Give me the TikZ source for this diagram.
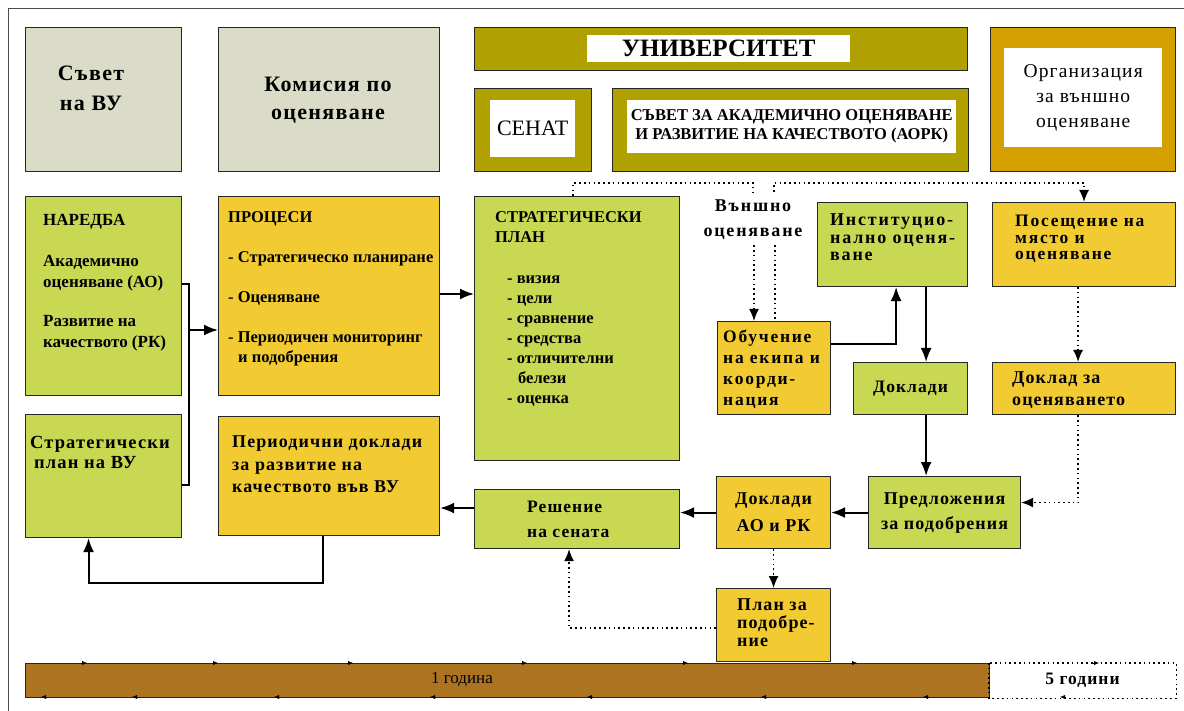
\documentclass[tikz,border=0pt]{standalone}
\usepackage{fontspec}
\setmainfont{Liberation Serif}
\newfontfamily\widefont[LetterSpace=6]{Liberation Serif}
\newfontfamily\widerfont[LetterSpace=10]{Liberation Serif}
\usetikzlibrary{arrows.meta,positioning}

\definecolor{grayfill}{RGB}{219,220,200}
\definecolor{greenfill}{RGB}{200,216,82}
\definecolor{yellowfill}{RGB}{242,202,50}
\definecolor{olivefill}{RGB}{176,160,0}
\definecolor{goldfill}{RGB}{212,160,0}
\definecolor{brownfill}{RGB}{172,116,32}

\tikzset{%
  >={Latex[width=11pt,length=14pt]},
  % Specifications for style of boxes:
            base/.style = {rectangle, draw=black!85, line width=1.1pt, inner sep=0pt,
                           anchor=north west, align=center,
                           font=\bfseries\widefont\fontsize{17.5}{25}\selectfont},
         graybox/.style = {base, fill=grayfill},
        greenbox/.style = {base, fill=greenfill},
       yellowbox/.style = {base, fill=yellowfill},
        olivebox/.style = {base, fill=olivefill},
         goldbox/.style = {base, fill=goldfill},
        whitebox/.style = {rectangle, fill=white, inner sep=0pt, anchor=north west, align=center},
        brownbar/.style = {base, fill=brownfill},
  % text inside the boxes
        bodytext/.style = {inner sep=0pt, anchor=north west, align=left,
                           font=\bfseries\fontsize{16.5}{20}\selectfont},
  % connectors
            link/.style = {line width=1.9pt, black},
         dotlink/.style = {line width=1.6pt, dash pattern=on 1.6pt off 3.2pt, black,
                           >={Latex[width=10pt,length=12pt]}},
            tick/.style = {line width=0.4pt, -{Latex[width=4pt,length=5pt]}},
}

\begin{document}
\begin{tikzpicture}[x=1pt, y=-1pt]
  \useasboundingbox (0,0) rectangle (1184,711);
  \draw[black!70, line width=1pt] (8,711) -- (8,9) -- (1184,9);

  % top row
  \node (sovet)       [graybox, minimum width=156pt, minimum height=144pt] at (25,27) {};
  \node (komisia)     [graybox, minimum width=221pt, minimum height=144pt] at (218,27) {};
  \node (univ)        [olivebox, minimum width=493pt, minimum height=43pt] at (474,27) {};
  \node (senat)       [olivebox, minimum width=117pt, minimum height=83pt] at (474,88) {};
  \node (aork)        [olivebox, minimum width=356pt, minimum height=83pt] at (612,88) {};
  \node (org)         [goldbox, minimum width=185pt, minimum height=144pt] at (990,27) {};

  \node (sovettxt)    [align=center, inner sep=0pt, font=\bfseries\widefont\fontsize{22}{30}\selectfont]
                      at (91,88) {Съвет\\на ВУ};
  \node (komisiatxt)  [align=center, inner sep=0pt, font=\bfseries\widefont\fontsize{22}{28}\selectfont]
                      at (328,100) {Комисия по\\оценяване};
  \node (univtxt)     [whitebox, minimum width=263pt, minimum height=27pt,
                       font=\bfseries\fontsize{25}{28}\selectfont] at (587,35) {УНИВЕРСИТЕТ};
  \node (senattxt)    [whitebox, minimum width=85pt, minimum height=57pt,
                       font=\fontsize{22}{26}\selectfont] at (490,100) {СЕНАТ};
  \node (aorktxt)     [whitebox, minimum width=329pt, minimum height=53pt,
                       font=\bfseries\fontsize{16.5}{19}\selectfont] at (627,100)
                      {СЪВЕТ ЗА АКАДЕМИЧНО ОЦЕНЯВАНЕ\\И РАЗВИТИЕ НА КАЧЕСТВОТО (АОРК)};
  \node (orgtxt)      [whitebox, minimum width=158pt, minimum height=99pt,
                       font=\widefont\fontsize{19.5}{25}\selectfont] at (1004,48)
                      {Организация\\за външно\\оценяване};

  % middle part
  \node (naredba)     [greenbox, minimum width=156pt, minimum height=199pt] at (25,196) {};
  \node (procesi)     [yellowbox, minimum width=221pt, minimum height=199pt] at (218,196) {};
  \node (stratplan)   [greenbox, minimum width=205pt, minimum height=264pt] at (474,196) {};
  \node (inst)        [greenbox, minimum width=150pt, minimum height=84pt] at (817,202) {};
  \node (posesthenie) [yellowbox, minimum width=183pt, minimum height=84pt] at (992,202) {};
  \node (obuchenie)   [yellowbox, minimum width=113pt, minimum height=93pt] at (717,321) {};
  \node (dokladi)     [greenbox, minimum width=114pt, minimum height=52pt] at (853,362) {Доклади};
  \node (dokladocen)  [yellowbox, minimum width=183pt, minimum height=52pt] at (992,362) {};
  \node (vynshno)     [align=center, inner sep=0pt, font=\bfseries\widerfont\fontsize{18}{25}\selectfont]
                      at (753,220) {Външно\\оценяване};

  \node (naredbatxt)  [bodytext, font=\bfseries\fontsize{17}{20.5}\selectfont]
                      at ([shift={(18,18)}]naredba.north west)
                      {НАРЕДБА\\[21pt]Академично\\оценяване (АО)\\[19pt]Развитие на\\качеството (РК)};
  \node (procesitxt)  [bodytext] at ([shift={(10,15)}]procesi.north west)
                      {ПРОЦЕСИ\\[20pt]- Стратегическо планиране\\[20pt]- Оценяване\\[20pt]%
                       - Периодичен мониторинг\\\hspace*{10pt}и подобрения};
  \node (strattxt)    [bodytext] at ([shift={(21,15)}]stratplan.north west)
                      {СТРАТЕГИЧЕСКИ\\ПЛАН\\[21pt]\hspace*{12pt}- визия\\\hspace*{12pt}- цели\\%
                       \hspace*{12pt}- сравнение\\\hspace*{12pt}- средства\\\hspace*{12pt}- отличителни\\%
                       \hspace*{23pt}белези\\\hspace*{12pt}- оценка};
  \node (insttxt)     [bodytext, font=\bfseries\widerfont\fontsize{18}{17.5}\selectfont]
                      at ([shift={(13,12)}]inst.north west) {Институцио-\\нално оценя-\\ване};
  \node (posestxt)    [bodytext, font=\bfseries\widerfont\fontsize{17.5}{16.5}\selectfont]
                      at ([shift={(23,13)}]posesthenie.north west) {Посещение на\\място и\\оценяване};
  \node (obuchtxt)    [bodytext, font=\bfseries\widerfont\fontsize{17.5}{21}\selectfont]
                      at ([shift={(6,9)}]obuchenie.north west) {Обучение\\на екипа и\\коорди-\\нация};
  \node (doklocentxt) [bodytext, font=\bfseries\widefont\fontsize{18}{22}\selectfont]
                      at ([shift={(20,10)}]dokladocen.north west) {Доклад за\\оценяването};

  % lower part
  \node (stratvu)     [greenbox, minimum width=156pt, minimum height=123pt] at (25,414) {};
  \node (periodichni) [yellowbox, minimum width=221pt, minimum height=119pt] at (218,416) {};
  \node (reshenie)    [greenbox, minimum width=205pt, minimum height=59pt] at (474,489) {};
  \node (dokladiao)   [yellowbox, minimum width=114pt, minimum height=72pt,
                       font=\bfseries\widefont\fontsize{18}{27}\selectfont] at (716,476) {Доклади\\АО и РК};
  \node (predlozhenia) [greenbox, minimum width=152pt, minimum height=72pt,
                       font=\bfseries\widefont\fontsize{18}{25}\selectfont] at (868,476)
                      {Предложения\\за подобрения};
  \node (plan)        [yellowbox, minimum width=114pt, minimum height=73pt] at (716,588) {};

  \node (stratvutxt)  [bodytext, font=\bfseries\widefont\fontsize{18.5}{20}\selectfont]
                      at ([shift={(5,22)}]stratvu.north west) {Стратегически\\\hspace*{4pt}план на ВУ};
  \node (periodtxt)   [bodytext, font=\bfseries\widefont\fontsize{18}{22.5}\selectfont]
                      at ([shift={(14,20)}]periodichni.north west)
                      {Периодични доклади\\за развитие на\\качеството във ВУ};
  \node (reshtxt)     [bodytext, font=\bfseries\widefont\fontsize{17.5}{25}\selectfont]
                      at ([shift={(53,12)}]reshenie.north west) {Решение\\на сената};
  \node (plantxt)     [bodytext, font=\bfseries\widefont\fontsize{18}{18}\selectfont]
                      at ([shift={(21,11)}]plan.north west) {План за\\подобре-\\ние};

  % time bar
  \node (bar)         [brownbar, minimum width=964pt, minimum height=34pt] at (25,663) {};
  \node (bartxt)      [inner sep=0pt, font=\fontsize{17}{20}\selectfont] at (462,680) {1 година};
  \node (fiveyears)   [base, draw=none, minimum width=186pt, minimum height=34pt] at (989,663) {5 години};
  \draw[dotlink, line width=1.2pt] (fiveyears.north west) rectangle (fiveyears.south east);
  \foreach \x in {85,216,351,525,686,855,1097}
    \draw[tick] (\x-4,663) -- (\x+2,663);
  \foreach \x in {43,134,276,432,589,763,925,1062}
    \draw[tick] (\x+4,697) -- (\x-2,697);

  % connectors
  \coordinate (brk) at (189,330);
  \draw[link] ([yshift=-88pt]naredba.north east) -| (brk) |- ([yshift=-71pt]stratvu.north east);
  \draw[link,->] (brk) -- (brk -| procesi.west);
  \coordinate (p1) at ([yshift=-98pt]procesi.north east);
  \draw[link,->] (p1) -- (p1 -| stratplan.west);
  \draw[link,->] ([xshift=-6pt]periodichni.south) -- ++(0,47) -| ([xshift=-15pt]stratvu.south);
  \coordinate (r1) at ([yshift=11pt]reshenie.west);
  \draw[link,->] (r1) -- (r1 -| periodichni.east);
  \draw[link,->] (dokladiao.west) -- (dokladiao.west -| reshenie.east);
  \draw[link,->] (predlozhenia.west) -- (predlozhenia.west -| dokladiao.east);
  \coordinate (i1) at ([xshift=-42pt]inst.south east);
  \draw[link,->] (i1) -- (i1 |- dokladi.north);
  \coordinate (d1) at ([xshift=-42pt]dokladi.south east);
  \draw[link,->] (d1) -- (d1 |- predlozhenia.north);
  \coordinate (o1) at ([yshift=24pt]obuchenie.east);
  \draw[link,->] (o1) -| ([xshift=-72pt]inst.south east);

  \draw[dotlink,->] ([xshift=-6pt]posesthenie.south) -- ([xshift=-6pt]dokladocen.north);
  \draw[dotlink,->] ([xshift=-6pt]dokladocen.south) |- ([yshift=10pt]predlozhenia.east);
  \draw[dotlink,->] (dokladiao.south) -- (plan.north);
  \draw[dotlink,->] ([yshift=-3pt]plan.west) -| ([xshift=-8pt]reshenie.south);

  \coordinate (t1) at ([xshift=99pt]stratplan.north west);
  \coordinate (bus) at ([yshift=13pt]stratplan.north);
  \draw[dotlink] (t1) |- (bus -| vynshno.north) -- ([yshift=8pt]vynshno.north);
  \draw[dotlink,->] ([xshift=21pt,yshift=8pt]vynshno.north) |- (bus -| posesthenie.north)
                    -- (posesthenie.north);
  \coordinate (v1) at ([xshift=1pt,yshift=-5pt]vynshno.south);
  \coordinate (v2) at ([xshift=22pt,yshift=-5pt]vynshno.south);
  \draw[dotlink,->] (v1) -- (v1 |- obuchenie.north);
  \draw[dotlink] (v2) -- (v2 |- obuchenie.north);
\end{tikzpicture}
\end{document}
